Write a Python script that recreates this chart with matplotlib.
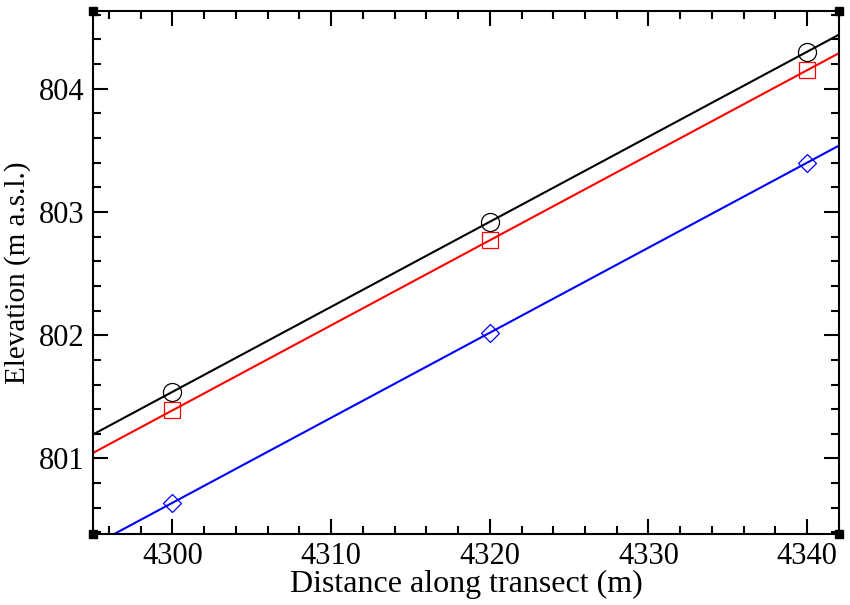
import matplotlib
matplotlib.use("Agg")
import matplotlib.pyplot as plt
from matplotlib.ticker import MultipleLocator
import numpy as np

plt.rcParams['font.family'] = ['Liberation Serif', 'DejaVu Serif']

# distance along transect (m) and elevation readings for the three profiles
distance = [4300, 4320, 4340]
elev_black = [801.54, 802.92, 804.30]
elev_red = [801.39, 802.77, 804.15]
elev_blue = [800.64, 802.02, 803.40]

xlim = (4295, 4342)
ylim = (800.39, 804.63)

fig = plt.figure(figsize=(8.5, 6.05), dpi=100)
ax = fig.add_axes([0.1094, 0.1179, 0.8776, 0.8639])

series = [
    (elev_black, 'black', 'o', 13),
    (elev_red, 'red', 's', 12),
    (elev_blue, 'blue', 'D', 9.5),
]

xx = np.array(xlim)
for elev, col, mk, ms in series:
    # least squares line through the points, drawn over the whole x range
    slope, icpt = np.polyfit(distance, elev, 1)
    ax.plot(xx, slope * xx + icpt, color=col, lw=1.5, zorder=2)
    ax.plot(distance, elev, linestyle='none', marker=mk, ms=ms,
            mfc='none', mec=col, mew=0.9, zorder=3)

ax.set_xlim(*xlim)
ax.set_ylim(*ylim)

ax.xaxis.set_major_locator(MultipleLocator(10))
ax.xaxis.set_minor_locator(MultipleLocator(2))
ax.yaxis.set_major_locator(MultipleLocator(1))
ax.yaxis.set_minor_locator(MultipleLocator(0.2))

ax.tick_params(which='both', direction='in', top=True, right=True, width=1.5)
ax.tick_params(which='major', length=11, labelsize=22, pad=6)
ax.tick_params(which='minor', length=6)
for s in ax.spines.values():
    s.set_linewidth(1.5)

ax.set_xlabel('Distance along transect (m)', fontsize=23, labelpad=-1)
ax.set_ylabel('Elevation (m a.s.l.)', fontsize=21, labelpad=6)

# little black squares on the frame corners
ax.plot([0, 0, 1, 1], [0, 1, 0, 1], 's', color='black', ms=6,
        transform=ax.transAxes, clip_on=False, zorder=5)

fig.savefig('out.png', dpi=100)
